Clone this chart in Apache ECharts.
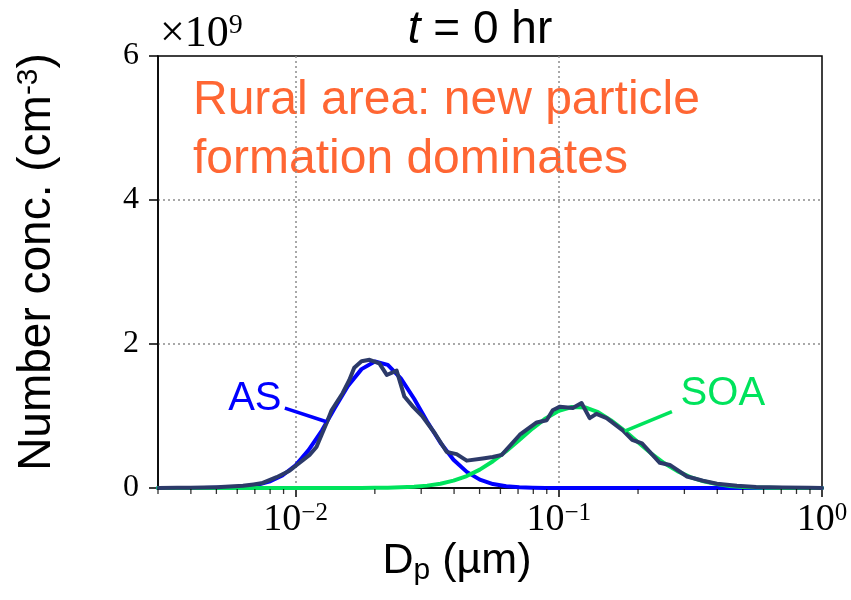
<!DOCTYPE html>
<html>
<head>
<meta charset="utf-8">
<script src="https://cdn.jsdelivr.net/npm/echarts@6.0.0/dist/echarts.min.js"></script>
<style>
  html, body { margin: 0; padding: 0; background: #fff; }
  #main { width: 851px; height: 600px; }
</style>
</head>
<body>
<div id="main"></div>
<script>
  // fitted modes, diameters in µm, concentrations in 1e9 cm^-3
  var fitDiam = [0.003, 0.00316, 0.00355, 0.00398, 0.00447, 0.00501, 0.00562, 0.00631, 0.00708, 0.00794, 0.00891,
    0.0100, 0.0112, 0.0126, 0.0141, 0.0158, 0.0178, 0.0200, 0.0224, 0.0251, 0.0282,
    0.0316, 0.0355, 0.0398, 0.0447, 0.0501, 0.0562, 0.0631, 0.0708, 0.0794, 0.0891,
    0.100, 0.112, 0.126, 0.141, 0.158, 0.178, 0.200, 0.224, 0.251, 0.282,
    0.316, 0.355, 0.398, 0.447, 0.501, 0.562, 0.631, 0.708, 0.794, 0.891, 1.0];
  var asFit = [0, 0, 0, 0.0002, 0.0007, 0.0023, 0.0065, 0.017, 0.040, 0.088, 0.174,
    0.316, 0.526, 0.801, 1.114, 1.418, 1.651, 1.757, 1.710, 1.523, 1.240,
    0.924, 0.629, 0.392, 0.224, 0.116, 0.055, 0.024, 0.0096, 0.0035, 0.001,
    0.0003, 0, 0, 0, 0, 0, 0, 0, 0, 0,
    0, 0, 0, 0, 0, 0, 0, 0, 0, 0, 0];
  var soaFit = [0, 0, 0, 0, 0, 0, 0, 0, 0, 0, 0,
    0, 0, 0, 0, 0, 0, 0.002, 0.004, 0.009, 0.017,
    0.033, 0.060, 0.102, 0.166, 0.255, 0.371, 0.512, 0.668, 0.825, 0.966,
    1.071, 1.125, 1.119, 1.054, 0.940, 0.795, 0.636, 0.482, 0.346, 0.235,
    0.151, 0.093, 0.054, 0.029, 0.015, 0.007, 0.003, 0.0015, 0.0006, 0.0002, 0.0001];

  // measured distribution
  var measDiam = [0.00302, 0.00355, 0.00398, 0.00447, 0.00501, 0.00562, 0.00631, 0.00692, 0.0075, 0.00847,
    0.00948, 0.0101, 0.0113, 0.0120, 0.0131, 0.0137, 0.0151, 0.0160, 0.0167, 0.0178,
    0.0191, 0.0208, 0.0222, 0.0242, 0.0259, 0.0279, 0.0304, 0.0338, 0.0375, 0.0409,
    0.0447, 0.0514, 0.0561, 0.0607, 0.0711, 0.0824, 0.0899, 0.0948, 0.101, 0.113,
    0.122, 0.131, 0.139, 0.152, 0.175, 0.190, 0.207, 0.242, 0.264, 0.307,
    0.353, 0.399, 0.475, 0.562, 0.708, 0.891, 1.0];
  var measConc = [0, 0.003, 0.005, 0.008, 0.012, 0.02, 0.03, 0.05, 0.07, 0.15,
    0.24, 0.32, 0.46, 0.57, 0.90, 1.08, 1.32, 1.50, 1.67, 1.76,
    1.78, 1.73, 1.57, 1.63, 1.27, 1.13, 0.99, 0.76, 0.50, 0.47,
    0.38, 0.41, 0.43, 0.46, 0.74, 0.91, 0.94, 1.08, 1.13, 1.11,
    1.18, 0.97, 1.03, 0.97, 0.80, 0.67, 0.62, 0.35, 0.32, 0.16,
    0.10, 0.06, 0.03, 0.015, 0.006, 0.002, 0.001];

  var xMinorTicks = [0.003, 0.004, 0.005, 0.006, 0.007, 0.008, 0.009,
    0.02, 0.03, 0.04, 0.05, 0.06, 0.07, 0.08, 0.09,
    0.2, 0.3, 0.4, 0.5, 0.6, 0.7, 0.8, 0.9];

  // annotation anchors (data coords)
  var asNote = { text: 'AS', at: [0.0070, 1.24], from: [0.0091, 1.11], to: [0.0131, 0.92] };
  var soaNote = { text: 'SOA', at: [0.42, 1.31], from: [0.269, 1.06], to: [0.178, 0.79] };

  var cAS = '#0000ff', cSOA = '#00e35c', cMeas = '#2c3a69';

  function pairs(xs, ys) {
    var out = [];
    for (var i = 0; i < xs.length; i++) out.push([xs[i], ys[i]]);
    return out;
  }

  function noteParts(note, color, size) {
    return {
      markLine: {
        silent: true, animation: false, symbol: ['none', 'none'],
        label: { show: false },
        lineStyle: { color: color, width: 3.5, type: 'solid' },
        data: [[{ coord: note.from }, { coord: note.to }]]
      },
      markPoint: {
        silent: true, animation: false,
        symbol: 'circle', symbolSize: 1,
        itemStyle: { color: 'rgba(0,0,0,0)' },
        label: { show: true, position: 'inside', formatter: note.text, color: color,
          fontSize: size, fontFamily: 'Liberation Sans' },
        data: [{ coord: note.at }]
      }
    };
  }

  var chart = echarts.init(document.getElementById('main'), null, { renderer: 'canvas' });
  var asNoteParts = noteParts(asNote, cAS, 40);
  var soaNoteParts = noteParts(soaNote, cSOA, 40);

  chart.setOption({
    animation: false,
    backgroundColor: '#fff',
    grid: {
      left: 158, right: 29, top: 56, bottom: 112,
      show: true, borderColor: '#000', borderWidth: 1.5,
      outerBoundsMode: 'none'
    },
    xAxis: {
      type: 'log', logBase: 10, min: 0.003, max: 1,
      axisLine: { show: true, lineStyle: { color: '#000', width: 1.5 } },
      axisTick: { show: true, inside: false, length: 9, lineStyle: { color: '#000', width: 1.5 } },
      axisLabel: {
        showMinLabel: false, margin: 13, color: '#000',
        formatter: function (v) {
          var e = Math.round(Math.log10(v));
          return '{b|10}{s|' + String(e).replace('-', '\u2212') + '}';
        },
        rich: {
          b: { fontSize: 38, fontFamily: 'Liberation Serif', color: '#000' },
          s: { fontSize: 25, fontFamily: 'Liberation Serif', color: '#000', verticalAlign: 'top' }
        }
      },
      splitLine: { show: true, showMinLine: false, showMaxLine: false,
        lineStyle: { color: '#8c8c8c', width: 1.5, type: [2, 3] } }
    },
    yAxis: {
      type: 'value', min: 0, max: 6, interval: 2,
      axisLine: { show: true, lineStyle: { color: '#000', width: 1.5 } },
      axisTick: { show: true, inside: false, length: 9, lineStyle: { color: '#000', width: 1.5 } },
      axisLabel: { margin: 19, color: '#000', fontSize: 32, fontFamily: 'Liberation Serif' },
      splitLine: { show: true, showMinLine: false, showMaxLine: false,
        lineStyle: { color: '#8c8c8c', width: 1.5, type: [2, 3] } }
    },
    series: [{
      name: 'AS', type: 'line', showSymbol: false, smooth: false,
      data: pairs(fitDiam, asFit),
      lineStyle: { color: cAS, width: 4, join: 'round', cap: 'round' },
      itemStyle: { color: cAS },
      markLine: asNoteParts.markLine,
      markPoint: asNoteParts.markPoint
    }, {
      name: 'SOA', type: 'line', showSymbol: false,
      data: pairs(fitDiam, soaFit),
      lineStyle: { color: cSOA, width: 4, join: 'round', cap: 'round' },
      itemStyle: { color: cSOA },
      markLine: soaNoteParts.markLine,
      markPoint: soaNoteParts.markPoint
    }, {
      name: 'measured', type: 'line', showSymbol: false,
      data: pairs(measDiam, measConc),
      lineStyle: { color: cMeas, width: 4, join: 'round', cap: 'round' },
      itemStyle: { color: cMeas }
    }, {
      // minor ticks of the log axis, hung under the x axis line
      name: 'minorTicks', type: 'scatter', silent: true, clip: false, z: 10,
      data: xMinorTicks.map(function (v) { return [v, 0]; }),
      symbol: 'rect', symbolSize: [1.3, 5], symbolOffset: [0, 3.5],
      itemStyle: { color: '#000' }
    }],
    graphic: [{
      type: 'text', x: 480, y: 30,
      style: {
        text: '{i|t} = 0 hr', align: 'center', verticalAlign: 'middle',
        fontSize: 46, fontFamily: 'Liberation Sans', fill: '#000',
        rich: { i: { fontSize: 46, fontFamily: 'Liberation Sans', fontStyle: 'italic', fill: '#000' } }
      }
    }, {
      type: 'text', x: 160, y: 34,
      style: {
        text: '\u00d710{s|9}', align: 'left', verticalAlign: 'middle',
        fontSize: 44, fontFamily: 'Liberation Serif', fill: '#000',
        rich: { s: { fontSize: 28, fontFamily: 'Liberation Serif', verticalAlign: 'top', fill: '#000' } }
      }
    }, {
      type: 'text', x: 193, y: 71,
      style: {
        text: 'Rural area: new particle\nformation dominates',
        fontSize: 48, lineHeight: 59, fontFamily: 'Liberation Sans', fill: '#ff6633'
      }
    }, {
      type: 'text', x: 37, y: 262, rotation: Math.PI / 2,
      style: {
        text: 'Number conc. (cm{s|-3})', align: 'center', verticalAlign: 'middle',
        fontSize: 46, fontFamily: 'Liberation Sans', fill: '#000',
        rich: { s: { fontSize: 30, fontFamily: 'Liberation Sans', verticalAlign: 'top', fill: '#000' } }
      }
    }, {
      type: 'text', x: 457, y: 536,
      style: {
        text: 'D{s|p} (\u00b5m)', align: 'center', verticalAlign: 'top',
        fontSize: 43, fontFamily: 'Liberation Sans', fill: '#000',
        rich: { s: { fontSize: 30, fontFamily: 'Liberation Sans', verticalAlign: 'top', padding: [20, 0, 0, 0], fill: '#000' } }
      }
    }]
  });
</script>
</body>
</html>
